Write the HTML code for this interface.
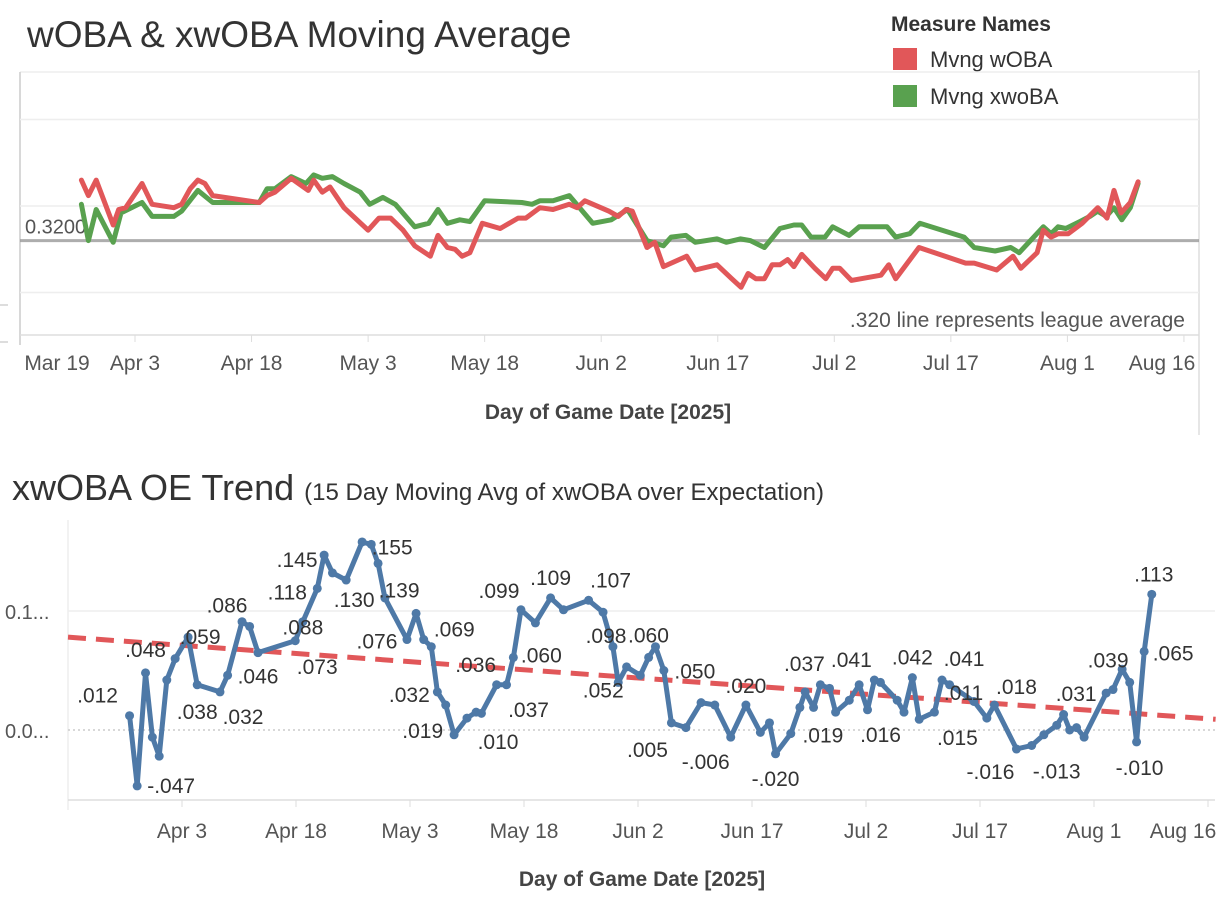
<!DOCTYPE html>
<html><head><meta charset="utf-8">
<style>
html,body{margin:0;padding:0;background:#fff;}
body{width:1228px;height:904px;overflow:hidden;font-family:"Liberation Sans",sans-serif;}
svg{position:absolute;left:0;top:0;}
</style></head>
<body>
<svg id="chart" width="1228" height="904">
  <text x="27" y="47" font-size="37" fill="#333">wOBA &amp; xwOBA Moving Average</text>
  <text x="891" y="31" font-size="21" font-weight="bold" fill="#333">Measure Names</text>
  <rect x="893" y="48" width="24" height="22" fill="#e15759"/>
  <text x="930" y="67" font-size="22" fill="#333">Mvng wOBA</text>
  <rect x="893" y="85" width="24" height="22" fill="#59a14f"/>
  <text x="930" y="104" font-size="22" fill="#333">Mvng xwoBA</text>
  <line x1="20" y1="72" x2="1199" y2="72" stroke="#eee" stroke-width="1.5"/>
  <line x1="1199" y1="70" x2="1199" y2="435" stroke="#ddd" stroke-width="1.5"/>
  <line x1="20" y1="72" x2="20" y2="345" stroke="#ccc" stroke-width="1.5"/>
  <line x1="20" y1="335" x2="1199" y2="335" stroke="#ddd" stroke-width="1.5"/>
  <line x1="0" y1="305" x2="8" y2="305" stroke="#bbb"/>
  <line x1="0" y1="342" x2="8" y2="342" stroke="#bbb"/>
  <g id="topchart"></g>
  <text x="1185" y="327" font-size="21" fill="#555" text-anchor="end">.320 line represents league average</text>
  <text x="608" y="419" font-size="21" font-weight="bold" fill="#444" text-anchor="middle">Day of Game Date [2025]</text>

  <text x="12" y="500" font-size="36" fill="#333">xwOBA OE Trend <tspan font-size="24">(15 Day Moving Avg of xwOBA over Expectation)</tspan></text>
  <line x1="68" y1="520" x2="68" y2="810" stroke="#eee" stroke-width="1.5"/>
  <line x1="68" y1="800" x2="1215" y2="800" stroke="#ddd" stroke-width="1.5"/>
  <g id="botchart"></g>
  <text x="642" y="886" font-size="21" font-weight="bold" fill="#444" text-anchor="middle">Day of Game Date [2025]</text>
</svg>
<script>
// ---- Top chart data (day offset from Apr 3, value) ----
const wobaDays=[-6.9,-6,-5,-2.8,-2.1,-1.2,0.9,2.2,5,6,7.1,8.1,9,10,16,17,18,20.1,22.3,23,24.1,25.1,26.9,30,31.4,32.9,34.5,36,38,39,40.2,41.2,42.1,43.1,44.7,47,49.3,50.3,52.1,53.8,55.9,56.9,57.9,61,62.2,63.2,64,65.9,66.9,68,71,72.1,74.9,76.8,78,78.9,79.9,81,82,83,84,84.8,85.8,87.5,88.9,89.8,90.7,92.2,96,97,97.9,100.9,106.9,108,110.9,113,114,116.1,116.9,117.9,118.8,120.1,121.9,123.9,125.1,126,126.9,128.1,129.1];
const wobaVals=[.355,.346,.355,.329,.338,.339,.353,.341,.339,.341,.350,.355,.353,.346,.342,.346,.348,.356,.349,.355,.348,.351,.339,.326,.333,.333,.326,.317,.311,.323,.316,.315,.311,.313,.330,.327,.333,.333,.339,.338,.341,.339,.343,.337,.334,.338,.337,.316,.319,.305,.311,.303,.306,.298,.293,.301,.298,.298,.306,.306,.309,.305,.312,.304,.298,.304,.304,.297,.300,.306,.298,.316,.307,.307,.303,.311,.304,.313,.326,.322,.324,.324,.330,.339,.333,.349,.336,.342,.354];
const xwobaDays=[-6.9,-6,-5,-2.8,-1.8,0.9,2.2,5,6,8.1,10,16,17,18,20.1,22,23,24.1,25.4,26.9,29,30.2,31.9,33.5,36,37.8,39,40.2,41.8,43.1,45,49.8,51.1,52.1,53.8,55.9,58.9,61.3,63.4,65.9,68,69,70.9,72.1,74.9,76.1,77.9,79.2,81,83,84.8,85.8,87,88.8,89.8,91.9,93.2,96.8,97.9,99.7,101,106.7,108,110.7,112.7,113.8,116.9,117.9,118.8,119.8,121.6,122.9,123.9,125,126,127,128.1,129.1];
const xwobaVals=[.341,.320,.338,.319,.336,.342,.334,.334,.337,.349,.342,.342,.350,.350,.357,.353,.358,.356,.357,.353,.348,.341,.345,.341,.328,.330,.338,.330,.332,.331,.343,.342,.341,.343,.343,.346,.330,.332,.338,.320,.317,.322,.323,.319,.321,.319,.321,.320,.316,.327,.329,.329,.322,.322,.328,.323,.328,.328,.322,.324,.330,.322,.316,.314,.316,.313,.328,.324,.328,.327,.331,.334,.337,.334,.339,.332,.339,.353];
const topGridVals=[.390,.340,.290];
const leagueAvg=.320;
const topTickLabels=["Mar 19","Apr 3","Apr 18","May 3","May 18","Jun 2","Jun 17","Jul 2","Jul 17","Aug 1","Aug 16"];
const topTickDays=[-15,0,15,30,45,60,75,90,105,120,135];

// ---- Bottom chart data ----
const oeDays=[-6.9,-5.9,-4.8,-3.9,-3,-2,-0.9,0.8,2,5,6,7.9,8.9,10,14.9,15.9,17.8,18.7,19.8,21.6,23.7,24.9,25.8,26.7,29.6,30.8,31.8,32.8,33.6,34.7,35.8,37.5,38.7,39.4,41.4,42.7,43.6,44.6,46.5,48.5,50.2,53.5,55.4,56.7,57.4,58.5,60.3,61.4,62.3,63.4,64.4,66.3,68.3,70.1,72.2,74.2,76.1,77.3,78.1,80.1,81.3,82,83.1,84,85.2,86,87.8,89.1,90.2,91.1,91.9,94.1,95,96.1,97,99,100,101,104.2,105.9,106.9,109.8,111.8,113.4,115.1,116,116.8,117.7,118.7,121.6,122.5,123.7,124.7,125.6,126.6,127.6];
const oeVals=[.012,-.047,.048,-.006,-.022,.042,.060,.078,.038,.032,.046,.091,.087,.065,.075,.091,.119,.147,.132,.126,.158,.156,.140,.111,.076,.098,.076,.070,.032,.021,-.004,.010,.015,.014,.038,.038,.061,.101,.090,.111,.101,.109,.099,.070,.040,.053,.046,.061,.070,.050,.006,.002,.023,.021,-.006,.021,-.002,.006,-.020,-.003,.019,.032,.019,.038,.035,.015,.025,.038,.017,.042,.040,.025,.015,.044,.009,.015,.042,.038,.024,.010,.021,-.016,-.013,-.004,.004,.013,.000,.002,-.006,.031,.034,.051,.040,-.010,.066,.114];
const labelIdx=[0,1,2,7,8,9,11,13,15,14,16,17,19,21,22,24,27,28,29,34,31,35,36,37,39,41,42,48,44,49,50,54,55,58,63,60,69,68,73,76,77,75,80,81,82,89,91,93,94,95];
const labelText=[".012","-.047",".048",".059",".038",".032",".086",".046",".088",".073",".118",".145",".130",".155",".139",".076",".069",".032",".019",".036",".010",".037",".060",".099",".109",".107",".098",".060",".052",".050",".005","-.006",".020","-.020",".037",".019",".041",".016",".042",".041",".011",".015",".018","-.016","-.013",".031",".039","-.010",".065",".113"];
const labelDx=[-32,34,0,12,0,23,-15,0,0,22,-30,-27,8,21,21,-30,23,-28,-23,-21,31,22,28,-22,0,22,3,-7,-15,31,-24,-25,0,0,-16,23,-23,13,0,22,14,23,22,-26,25,-30,-14,3,29,2];
const labelDy=[-20,0,-23,0,27,25,-16,24,6,26,4,5,20,3,27,2,-17,3,26,-20,24,25,-2,-19,-20,-20,24,-11,8,1,27,25,-19,25,-21,28,-20,25,-20,-21,8,26,-18,23,26,1,-9,26,2,-20];
const trendDays=[-15,136];
const trendVals=[.078,.009];
const botTickLabels=["Apr 3","Apr 18","May 3","May 18","Jun 2","Jun 17","Jul 2","Jul 17","Aug 1","Aug 16"];
const botTickDays=[0,15,30,45,60,75,90,105,120,135];
const botGridVals=[.1,0];
const botGridLabels=["0.1...","0.0..."];

const NS="http://www.w3.org/2000/svg";
function mk(tag,attrs,parent){const e=document.createElementNS(NS,tag);for(const k in attrs)e.setAttribute(k,attrs[k]);parent.appendChild(e);return e;}
const tx=d=>135+d*7.77;
const ty=v=>206+(0.340-v)*1730;
const topG=document.getElementById('topchart');
topGridVals.forEach(v=>{const l=mk('line',{x1:20,x2:1199,y1:ty(v),y2:ty(v),stroke:'#eee','stroke-width':1.5},topG);

});
const la=mk('line',{x1:20,x2:1199,y1:ty(leagueAvg),y2:ty(leagueAvg),stroke:'#999','stroke-width':3,opacity:0.8},topG);


const lat=mk('text',{x:25,y:ty(leagueAvg)-7,'font-size':20,fill:'#555'},topG);lat.textContent='0.3200';


topTickDays.forEach((d,i)=>{
  if(i>0){const t=mk('line',{x1:tx(d),x2:tx(d),y1:335,y2:342,stroke:'#ddd'},topG);
  
  }
  let x=tx(d); if(i==0)x=57; if(i==topTickDays.length-1)x=1162;
  const tl=mk('text',{x:x,y:370,'font-size':21,fill:'#555','text-anchor':'middle'},topG);tl.textContent=topTickLabels[i];
  
  
});
function series(days,vals,color,name){
  const p=days.map((d,i)=>tx(d).toFixed(1)+','+ty(vals[i]).toFixed(1)).join(' ');
  const pl=mk('polyline',{points:p,fill:'none',stroke:color,'stroke-width':5,'stroke-linejoin':'round','stroke-linecap':'round'},topG);
  
  
}
series(xwobaDays,xwobaVals,'#59a14f','xwoba-line');
series(wobaDays,wobaVals,'#e15759','woba-line');

const bx=d=>182+d*7.6;
const by=v=>730-v*1190;
const botG=document.getElementById('botchart');
botGridVals.forEach((v,i)=>{
  const g=mk('line',{x1:68,x2:1215,y1:by(v),y2:by(v),stroke:i==1?'#ccc':'#eee','stroke-width':1.5,'stroke-dasharray':i==1?'2 3':'none'},botG);
  
  
  const t=mk('text',{x:5,y:by(v)+8,'font-size':20,fill:'#555'},botG);t.textContent=botGridLabels[i];
  
  
});
botTickDays.forEach((d,i)=>{
  const t=mk('line',{x1:bx(d),x2:bx(d),y1:800,y2:807,stroke:'#ddd'},botG);
  
  
  let x=bx(d); if(i==botTickDays.length-1)x=1183;
  const tl=mk('text',{x:x,y:838,'font-size':21,fill:'#555','text-anchor':'middle'},botG);tl.textContent=botTickLabels[i];
  
  
});
const tr=mk('line',{x1:bx(trendDays[0]),y1:by(trendVals[0]),x2:bx(trendDays[1]),y2:by(trendVals[1]),stroke:'#e15759','stroke-width':5,'stroke-dasharray':'18 10'},botG);


const op=oeDays.map((d,i)=>bx(d).toFixed(1)+','+by(oeVals[i]).toFixed(1)).join(' ');
const ol=mk('polyline',{points:op,fill:'none',stroke:'#4e79a7','stroke-width':5,'stroke-linejoin':'round'},botG);


oeDays.forEach((d,i)=>{
  const c=mk('circle',{cx:bx(d),cy:by(oeVals[i]),r:4.5,fill:'#4e79a7'},botG);
  
  
});
labelIdx.forEach((k,i)=>{
  const t=mk('text',{x:bx(oeDays[k])+labelDx[i],y:by(oeVals[k])+labelDy[i]+7,'font-size':21,fill:'#333','text-anchor':'middle'},botG);
  t.textContent=labelText[i];
  
  
});
</script>
</body></html>
